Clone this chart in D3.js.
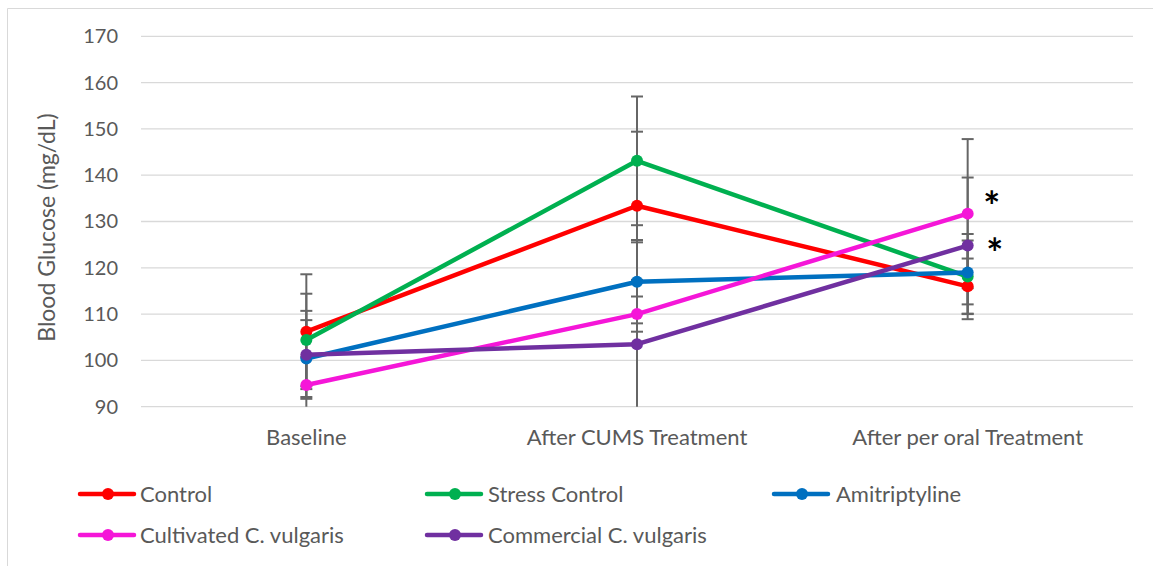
<!DOCTYPE html>
<html>
<head>
<meta charset="utf-8">
<script src="https://cdn.jsdelivr.net/npm/d3@7"></script>
<style>
  body { margin: 0; background: #fff; }
  text { font-family: Lato, "Open Sans", sans-serif; fill: #595959; }
</style>
</head>
<body>
<div id="chart"></div>
<script>
(function() {
  'use strict';

  // chart data
  var categories = ["Baseline", "After CUMS Treatment", "After per oral Treatment"];
  var yTicks = [90, 100, 110, 120, 130, 140, 150, 160, 170];

  var seriesNames = ["Control", "Stress Control", "Amitriptyline", "Cultivated C. vulgaris", "Commercial C. vulgaris"];
  var seriesColors = ["#ff0000", "#00b050", "#0070c0", "#f516d8", "#7030a0"];

  var control = [106.2, 133.4, 116.0];
  var stressControl = [104.4, 143.1, 118.1];
  var amitriptyline = [100.4, 117.0, 119.0];
  var cultivated = [94.7, 110.0, 131.7];
  var commercial = [101.2, 103.5, 124.8];

  var controlErr = [12.4, 16.0, 6.0];
  var stressControlErr = [10.0, 13.9, 9.2];
  var amitriptylineErr = [8.3, 9.0, 6.9];
  var cultivatedErr = [6.0, 3.8, 16.1];
  var commercialErr = [9.5, 22.0, 14.7];

  // significance marks: category, level (mg/dL) where the * sits
  var starCategory = ["After per oral Treatment", "After per oral Treatment"];
  var starLevel = [135.1, 124.9];

  var values = [control, stressControl, amitriptyline, cultivated, commercial];
  var errors = [controlErr, stressControlErr, amitriptylineErr, cultivatedErr, commercialErr];

  var width = 1153;
  var height = 566;
  var plot = { left: 141, right: 1133, top: 36.3, bottom: 406.7 };

  var svg = d3.select("#chart")
    .append("svg")
    .attr("width", width)
    .attr("height", height);

  // outer frame (only left and top edges show in the picture)
  svg.append("path")
    .attr("d", "M7.5," + height + "V8.5H" + width)
    .attr("fill", "none")
    .attr("stroke", "#d9d9d9")
    .attr("stroke-width", 1);

  var x = d3.scaleBand()
    .domain(categories)
    .range([plot.left, plot.right])
    .paddingInner(0)
    .paddingOuter(0);

  var cx = function (c) { return x(c) + x.bandwidth() / 2; };

  var y = d3.scaleLinear()
    .domain([90, 170])
    .range([plot.bottom, plot.top]);

  // gridlines
  svg.append("g")
    .selectAll("line")
    .data(yTicks)
    .enter()
    .append("line")
    .attr("x1", plot.left)
    .attr("x2", plot.right)
    .attr("y1", function (d) { return y(d); })
    .attr("y2", function (d) { return y(d); })
    .attr("stroke", "#d9d9d9")
    .attr("stroke-width", 1.3);

  // y axis labels
  var yAxis = d3.axisLeft(y)
    .tickValues(yTicks)
    .tickSize(0)
    .tickPadding(0);

  svg.append("g")
    .attr("transform", "translate(118,0)")
    .call(yAxis)
    .call(function (g) { g.select(".domain").remove(); })
    .selectAll("text")
    .attr("font-family", "Lato, 'Open Sans', sans-serif")
    .attr("font-size", 20)
    .attr("fill", "#595959");

  // x axis labels
  var xAxis = d3.axisBottom(x)
    .tickSize(0)
    .tickPadding(0);

  svg.append("g")
    .attr("transform", "translate(0,429)")
    .call(xAxis)
    .call(function (g) { g.select(".domain").remove(); })
    .selectAll("text")
    .attr("font-family", "Lato, 'Open Sans', sans-serif")
    .attr("font-size", 22)
    .attr("fill", "#595959");

  svg.append("text")
    .attr("transform", "translate(55," + ((plot.top + plot.bottom) / 2 + 6) + ") rotate(-90)")
    .attr("text-anchor", "middle")
    .attr("font-size", 23)
    .text("Blood Glucose (mg/dL)");

  var clamp = function (v) { return Math.max(90, Math.min(170, v)); };

  // error bars, behind the lines
  var errG = svg.append("g")
    .attr("stroke", "#666666")
    .attr("stroke-width", 2);

  values.forEach(function (vals, s) {
    vals.forEach(function (v, i) {
      var px = cx(categories[i]);
      var hi = v + errors[s][i];
      var lo = v - errors[s][i];
      errG.append("line")
        .attr("x1", px).attr("x2", px)
        .attr("y1", y(clamp(hi))).attr("y2", y(clamp(lo)));
      [hi, lo].forEach(function (e) {
        if (e >= 90 && e <= 170) {
          errG.append("line")
            .attr("x1", px - 6).attr("x2", px + 6)
            .attr("y1", y(e)).attr("y2", y(e));
        }
      });
    });
  });

  var line = d3.line()
    .x(function (d, i) { return cx(categories[i]); })
    .y(function (d) { return y(d); });

  values.forEach(function (vals, s) {
    var g = svg.append("g");
    g.append("path")
      .datum(vals)
      .attr("d", line)
      .attr("fill", "none")
      .attr("stroke", seriesColors[s])
      .attr("stroke-width", 4.5)
      .attr("stroke-linejoin", "round");
    g.selectAll("circle")
      .data(vals)
      .enter()
      .append("circle")
      .attr("cx", function (d, i) { return cx(categories[i]); })
      .attr("cy", function (d) { return y(d); })
      .attr("r", 6)
      .attr("fill", seriesColors[s]);
  });

  // asterisks
  svg.append("g")
    .selectAll("text")
    .data(starLevel)
    .enter()
    .append("text")
    .attr("x", function (d, i) { return cx(starCategory[i]) + 24 + i * 3; })
    .attr("y", function (d) { return y(d) + 23; })
    .attr("text-anchor", "middle")
    .attr("font-size", 40)
    .attr("font-weight", "bold")
    .attr("font-family", "Lato, sans-serif")
    .style("fill", "#000")
    .text("*");

  // legend
  var legend = svg.append("g");
  seriesNames.forEach(function (name, s) {
    var col = s % 3;
    var row = Math.floor(s / 3);
    var lx = 80 + col * 347;
    var ly = 494 + row * 41;
    var item = legend.append("g").attr("transform", "translate(" + lx + "," + ly + ")");
    item.append("line")
      .attr("x1", 0).attr("x2", 54)
      .attr("y1", 0).attr("y2", 0)
      .attr("stroke", seriesColors[s])
      .attr("stroke-width", 4.5)
      .attr("stroke-linecap", "round");
    item.append("circle")
      .attr("cx", 28).attr("cy", 0).attr("r", 6)
      .attr("fill", seriesColors[s]);
    item.append("text")
      .attr("x", 60 + col)
      .attr("y", 0)
      .attr("dy", "0.35em")
      .attr("font-size", 22)
      .text(name);
  });
})();
</script>
</body>
</html>
